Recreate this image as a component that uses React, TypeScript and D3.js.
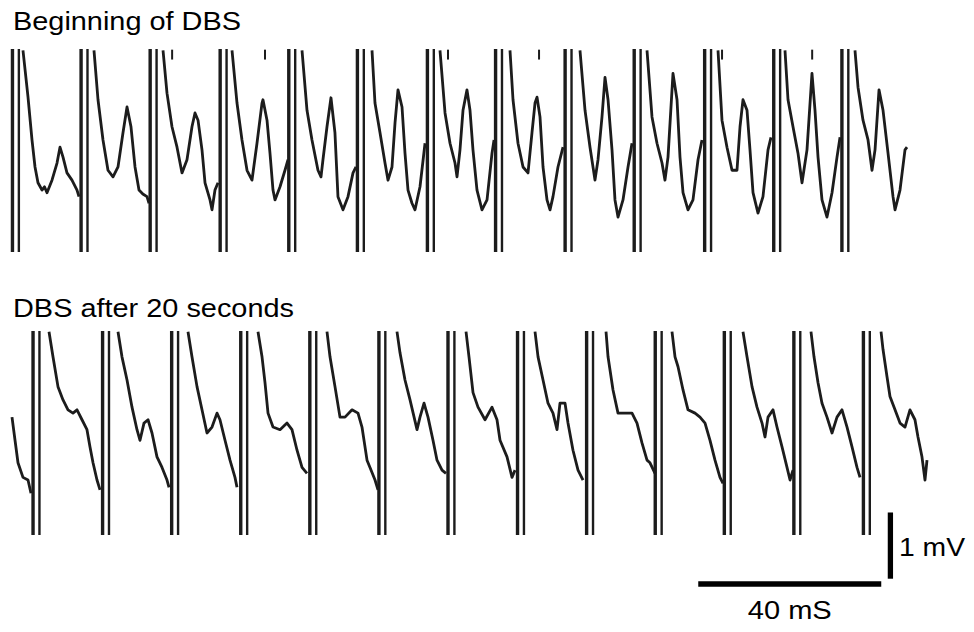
import React from "react";
import * as d3 from "d3";

// ---- data (time in ms, potential in mV) ----
const titles = ["Beginning of DBS", "DBS after 20 seconds"];

// stimulus onset of each biphasic pulse (first artifact line), ms
const topStimMs = [0.1, 15.1, 30.2, 45.5, 60.5, 75.5, 90.8, 105.7, 120.9, 136.0, 151.4, 166.5, 181.4];
const bottomStimMs = [4.6, 19.8, 34.9, 50.0, 65.1, 80.2, 95.3, 110.5, 125.6, 140.6, 155.7, 170.9, 186.1];
const pulseGapMs = 1.4;
// small clipped fragments above the top trace
const topFragmentMs = [35.0, 55.3, 95.3, 115.2, 155.2, 174.9];

// recorded LFP between artifacts: [ms, mV]
const topSegments: [number, number][][] = [
  [[2.4, 1.52], [3.5, 0.81], [4.37, 0.16], [5.03, -0.25], [5.68, -0.49], [6.56, -0.6], [7.1, -0.55], [7.65, -0.64], [8.74, -0.45], [9.84, -0.19], [10.49, 0.05], [11.15, -0.1], [12.02, -0.34], [13.11, -0.45], [14.21, -0.6], [14.64, -0.7]],
  [[17.92, 1.52], [18.8, 0.77], [19.89, 0.16], [20.98, -0.3], [22.08, -0.4], [23.17, -0.25], [24.26, 0.27], [25.14, 0.66], [26.01, 0.36], [26.89, -0.25], [27.76, -0.6], [28.6, -0.66], [29.51, -0.7], [29.95, -0.8]],
  [[33.01, 1.52], [33.88, 0.87], [34.97, 0.36], [36.07, 0.05], [37.16, -0.34], [38.25, -0.14], [39.34, 0.36], [40.0, 0.57], [40.66, 0.46], [41.53, 0.01], [42.19, -0.49], [43.28, -0.75], [43.72, -0.9], [44.37, -0.6], [45.03, -0.49]],
  [[48.09, 1.52], [49.18, 0.72], [50.27, 0.16], [51.37, -0.3], [52.46, -0.45], [53.55, 0.11], [54.65, 0.72], [54.86, 0.77], [55.74, 0.46], [56.39, -0.04], [57.05, -0.6], [57.49, -0.75], [58.58, -0.55], [59.67, -0.3], [60.33, -0.14]],
  [[63.39, 1.52], [64.48, 0.61], [65.57, 0.16], [66.88, -0.3], [67.54, -0.4], [67.97, -0.14], [68.85, 0.36], [69.72, 0.8], [70.59, 0.27], [71.25, -0.7], [72.35, -0.9], [73.44, -0.7], [74.54, -0.34], [75.19, -0.25]],
  [[78.69, 1.52], [79.34, 0.72], [80.44, 0.27], [81.53, -0.19], [82.19, -0.45], [83.06, -0.25], [83.72, 0.42], [84.37, 0.92], [85.25, 0.66], [85.9, -0.04], [86.56, -0.6], [87.43, -0.8], [88.09, -0.9], [89.18, -0.55], [90.28, 0.11]],
  [[93.55, 1.52], [94.65, 0.57], [95.74, 0.11], [96.83, -0.19], [97.27, -0.4], [97.92, 0.01], [98.58, 0.61], [99.45, 0.92], [100.11, 0.61], [100.76, 0.01], [101.64, -0.6], [102.73, -0.9], [103.83, -0.75], [104.92, -0.04], [105.36, 0.16]],
  [[108.85, 1.52], [109.51, 0.77], [110.6, 0.11], [111.7, -0.25], [112.79, -0.34], [113.66, 0.27], [114.32, 0.72], [114.76, 0.81], [115.41, 0.51], [116.07, -0.25], [116.94, -0.75], [117.6, -0.9], [118.25, -0.7], [119.34, -0.25], [120.44, 0.05]],
  [[124.15, 1.52], [125.25, 0.61], [126.34, 0.05], [127.43, -0.45], [128.09, -0.14], [128.96, 0.51], [129.62, 1.11], [130.28, 0.77], [131.15, 0.01], [131.8, -0.75], [132.46, -1.01], [133.55, -0.75], [134.65, -0.25], [135.52, 0.11]],
  [[138.8, 1.52], [139.89, 0.51], [140.98, 0.11], [142.08, -0.19], [142.73, -0.45], [143.39, -0.1], [144.48, 1.17], [145.36, 0.77], [146.01, -0.1], [146.67, -0.64], [147.76, -0.9], [148.85, -0.75], [149.95, -0.14], [150.82, 0.16]],
  [[154.32, 1.52], [155.19, 0.46], [156.28, 0.05], [157.38, -0.3], [158.47, -0.3], [159.13, 0.36], [159.78, 0.77], [160.66, 0.61], [161.31, 0.01], [161.97, -0.64], [163.06, -0.95], [164.15, -0.7], [165.25, 0.01], [165.9, 0.2]],
  [[168.96, 1.52], [169.62, 0.77], [170.71, 0.36], [171.8, -0.04], [172.68, -0.49], [173.77, 0.01], [174.86, 1.17], [175.52, 0.61], [176.18, -0.1], [177.05, -0.75], [178.14, -1.01], [179.24, -0.64], [180.33, -0.1], [180.99, 0.2]],
  [[184.26, 1.52], [184.92, 0.96], [186.01, 0.46], [187.11, 0.16], [187.98, -0.3], [188.64, 0.01], [189.51, 0.92], [190.39, 0.61], [191.48, -0.04], [192.57, -0.7], [193.01, -0.9], [194.1, -0.6], [195.19, 0.01], [195.63, 0.05]],
];

const bottomSegments: [number, number][][] = [
  [[0.0, 0.24], [0.66, -0.11], [1.31, -0.45], [2.4, -0.67], [3.5, -0.71], [4.15, -0.91]],
  [[8.09, 1.53], [8.96, 1.15], [10.05, 0.7], [11.15, 0.5], [12.24, 0.35], [13.33, 0.3], [14.21, 0.35], [15.3, 0.2], [16.39, 0.05], [17.05, -0.21], [17.71, -0.45], [18.58, -0.71], [19.24, -0.86]],
  [[23.17, 1.53], [24.04, 1.15], [25.14, 0.8], [26.23, 0.39], [27.32, 0.05], [27.98, -0.11], [28.85, 0.15], [29.73, 0.2], [30.6, 0.0], [31.69, -0.36], [32.79, -0.52], [33.88, -0.71], [34.32, -0.82]],
  [[38.47, 1.53], [39.34, 1.15], [40.44, 0.7], [41.53, 0.35], [42.62, 0.0], [43.72, 0.09], [44.81, 0.3], [45.46, 0.2], [46.56, -0.11], [47.65, -0.41], [48.74, -0.67], [49.18, -0.82]],
  [[53.77, 1.53], [54.65, 1.15], [55.3, 0.76], [55.96, 0.3], [57.05, 0.09], [58.58, 0.05], [60.11, 0.15], [61.2, 0.05], [62.3, -0.26], [63.39, -0.52], [64.48, -0.61]],
  [[68.85, 1.53], [69.51, 1.15], [70.6, 0.7], [71.69, 0.24], [72.79, 0.24], [74.32, 0.35], [75.63, 0.3], [76.5, 0.09], [77.6, -0.41], [78.25, -0.52], [79.35, -0.71], [80.0, -0.86]],
  [[84.15, 1.53], [84.81, 1.21], [85.9, 0.8], [87.0, 0.5], [88.53, 0.05], [89.18, 0.24], [90.06, 0.45], [90.93, 0.24], [92.02, -0.11], [92.9, -0.41], [93.99, -0.56], [94.86, -0.61]],
  [[99.24, 1.53], [99.89, 1.15], [100.77, 0.61], [101.86, 0.39], [103.39, 0.2], [104.92, 0.39], [106.01, 0.2], [106.67, -0.11], [108.2, -0.36], [109.29, -0.67], [109.95, -0.56]],
  [[114.32, 1.53], [114.98, 1.15], [116.07, 0.8], [117.16, 0.45], [118.25, 0.3], [119.13, 0.05], [119.78, 0.45], [120.88, 0.45], [121.53, 0.15], [122.62, -0.26], [123.72, -0.56], [124.81, -0.71]],
  [[129.84, 1.53], [130.28, 1.15], [131.37, 0.65], [132.46, 0.3], [133.99, 0.3], [135.52, 0.3], [136.61, 0.15], [137.7, -0.15], [138.8, -0.41], [139.45, -0.45], [140.55, -0.61]],
  [[144.26, 1.53], [144.92, 1.15], [145.58, 1.0], [146.67, 0.65], [147.76, 0.35], [149.29, 0.3], [150.38, 0.24], [151.48, 0.15], [152.57, -0.11], [153.66, -0.41], [154.75, -0.67], [155.41, -0.76]],
  [[159.78, 1.53], [160.66, 1.15], [161.75, 0.7], [162.84, 0.39], [163.94, 0.15], [164.59, -0.06], [165.25, 0.24], [166.34, 0.35], [167.21, 0.09], [168.31, -0.21], [169.4, -0.52], [170.06, -0.71], [170.71, -0.56]],
  [[174.64, 1.53], [175.3, 1.15], [176.18, 0.76], [177.05, 0.45], [178.14, 0.24], [179.24, 0.0], [180.33, 0.24], [181.42, 0.35], [182.52, 0.09], [183.61, -0.21], [184.7, -0.52], [185.36, -0.67]],
  [[189.95, 1.53], [190.39, 1.26], [191.26, 0.85], [191.91, 0.55], [193.01, 0.35], [194.1, 0.15], [195.19, 0.09], [196.28, 0.35], [197.37, 0.2], [198.03, -0.06], [198.9, -0.36], [199.56, -0.71], [200.0, -0.41]],
];

const scaleBarMs = 40;
const scaleBarMv = 1;
const scaleBarLabels = ["40 mS", "1 mV"];

// ---- layout ----
const W = 974;
const H = 632;
const INK = "#1c1c1c";
const FONT = "'Liberation Sans', Arial, Helvetica, sans-serif";

export default function App() {
  const x = d3.scaleLinear().domain([0, 200]).range([12, 927]);
  const clip = 1.54;
  const yTop = d3.scaleLinear().domain([-clip, clip]).range([252, 49]);
  const yBot = d3.scaleLinear().domain([-clip, clip]).range([535, 331]);

  const lineGen = (y: d3.ScaleLinear<number, number>) =>
    d3
      .line<[number, number]>()
      .x((d) => x(d[0]))
      .y((d) => y(d[1]));

  const topLine = lineGen(yTop);
  const botLine = lineGen(yBot);

  const artifacts = (stims: number[], y: d3.ScaleLinear<number, number>, key: string) =>
    stims.map((t, i) => (
      <g key={key + i}>
        <line x1={x(t)} x2={x(t)} y1={y(clip)} y2={y(-clip)} stroke={INK} strokeWidth={3.4} />
        <line
          x1={x(t + pulseGapMs)}
          x2={x(t + pulseGapMs)}
          y1={y(clip)}
          y2={y(-clip)}
          stroke={INK}
          strokeWidth={2.4}
        />
      </g>
    ));

  const barX0 = x(150);
  const barX1 = x(150 + scaleBarMs);
  const barY = yBot(-2.28);
  const vBarX = x(192);
  const vBarTop = yBot(-1.2);
  const vBarBottom = yBot(-1.2 - scaleBarMv);

  return (
    <div style={{ position: "absolute", left: 0, top: 0 }}>
      <svg width={W} height={H} style={{ display: "block", background: "#fff" }}>
        <rect x={0} y={0} width={W} height={H} fill="#fff" />
        <text x={13} y={30} fontFamily={FONT} fontSize={26} fill="#000" textLength={228} lengthAdjust="spacingAndGlyphs">
          {titles[0]}
        </text>
        <text x={13} y={317} fontFamily={FONT} fontSize={26} fill="#000" textLength={281} lengthAdjust="spacingAndGlyphs">
          {titles[1]}
        </text>

        {artifacts(topStimMs, yTop, "ta")}
        {artifacts(bottomStimMs, yBot, "ba")}

        {topFragmentMs.map((t, i) => (
          <line key={"tf" + i} x1={x(t)} x2={x(t)} y1={yTop(1.53)} y2={yTop(1.38)} stroke={INK} strokeWidth={2} />
        ))}

        {topSegments.map((seg, i) => (
          <path
            key={"ts" + i}
            d={topLine(seg) || ""}
            fill="none"
            stroke={INK}
            strokeWidth={2.8}
            strokeLinejoin="round"
          />
        ))}
        {bottomSegments.map((seg, i) => (
          <path
            key={"bs" + i}
            d={botLine(seg) || ""}
            fill="none"
            stroke={INK}
            strokeWidth={2.8}
            strokeLinejoin="round"
          />
        ))}

        {/* scale bars */}
        <line x1={barX0} x2={barX1} y1={barY} y2={barY} stroke="#000" strokeWidth={5.5} />
        <line x1={vBarX} x2={vBarX} y1={vBarTop} y2={vBarBottom} stroke="#000" strokeWidth={5.3} />
        <text
          x={(barX0 + barX1) / 2}
          y={619}
          fontFamily={FONT}
          fontSize={26}
          fill="#000"
          textAnchor="middle"
          textLength={84}
          lengthAdjust="spacingAndGlyphs"
        >
          {scaleBarLabels[0]}
        </text>
        <text x={899} y={556} fontFamily={FONT} fontSize={26} fill="#000" textLength={66} lengthAdjust="spacingAndGlyphs">
          {scaleBarLabels[1]}
        </text>
      </svg>
    </div>
  );
}
